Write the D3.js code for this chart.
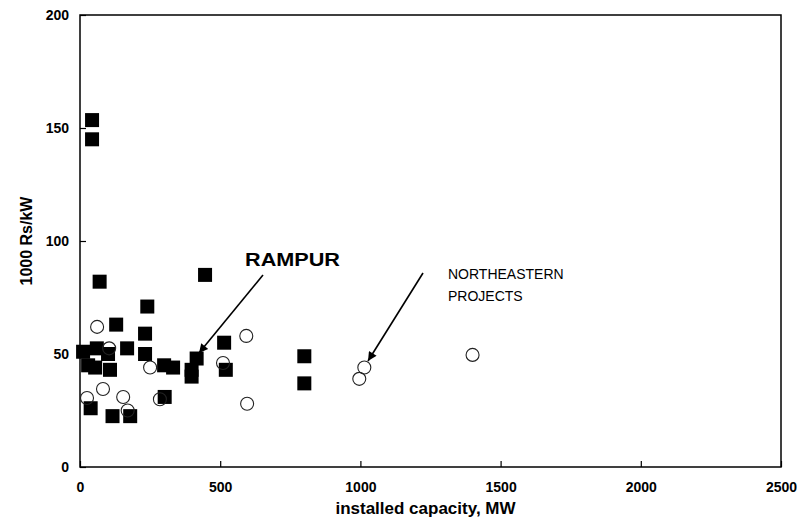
<!DOCTYPE html>
<html>
<head>
<meta charset="utf-8">
<script src="https://cdn.jsdelivr.net/npm/d3@7"></script>
<style>
  body { margin: 0; background: #fff; }
  text { font-family: Arial, "Liberation Sans", sans-serif; }
  .tick text { font-weight: bold; font-size: 14px; }
</style>
</head>
<body>
<div id="chart"></div>
<script>
// filled squares: [installed capacity MW, 1000 Rs/kW]
let squares = [
  [43, 153.5], [43, 145], [70, 82], [240, 71], [446, 85], [129, 63], [232, 59],
  [11, 51], [60, 52.5], [100, 50], [168, 52.5], [232, 50], [29, 45], [54, 44],
  [107, 43], [300, 45], [332, 44], [398, 43], [398, 40], [416, 48], [514, 55],
  [520, 43], [800, 49], [800, 37], [38, 26], [116, 22.5], [179, 22.5], [302, 31]
]
// open circles
let circles = [
  [61, 62], [104, 52.5], [250, 44], [82, 34.5], [25, 30.5], [154, 31], [170, 25],
  [285, 30], [593, 58], [510, 46], [596, 28], [1014, 44], [996, 39], [1400, 49.6]
]
let xTicks = [0, 500, 1000, 1500, 2000, 2500]
let yTicks = [0, 50, 100, 150, 200]

let width = 797
let height = 522
let margin = { top: 15, right: 16, bottom: 55, left: 80 }

let svg = d3.select('#chart').append('svg')
  .attr('width', width)
  .attr('height', height)

let x = d3.scaleLinear().domain([0, 2500]).range([margin.left, width - margin.right])
let y = d3.scaleLinear().domain([0, 200]).range([height - margin.bottom, margin.top])

// frame
svg.append('rect')
  .attr('x', x(0))
  .attr('y', y(200))
  .attr('width', x(2500) - x(0))
  .attr('height', y(0) - y(200))
  .attr('fill', 'none')
  .attr('stroke', '#000')
  .attr('stroke-width', 1.5)

let xAxis = svg.append('g')
  .attr('transform', 'translate(0,' + y(0) + ')')
  .call(d3.axisBottom(x).tickValues(xTicks).tickSize(-6).tickPadding(15).tickFormat(d3.format('d')))
xAxis.select('.domain').remove()

let yAxis = svg.append('g')
  .attr('transform', 'translate(' + x(0) + ',0)')
  .call(d3.axisLeft(y).tickValues(yTicks).tickSize(-6).tickPadding(11).tickFormat(d3.format('d')))
yAxis.select('.domain').remove()

svg.selectAll('.tick line').attr('stroke', '#000').attr('stroke-width', 1.2)
svg.selectAll('.tick text').attr('fill', '#000')

// axis titles
svg.append('text')
  .attr('x', (x(0) + x(2500)) / 2 - 5)
  .attr('y', 514)
  .attr('text-anchor', 'middle')
  .attr('font-size', 17)
  .attr('font-weight', 'bold')
  .text('installed capacity, MW')

svg.append('text')
  .attr('transform', 'translate(32,' + y(100) + ')rotate(-90)')
  .attr('text-anchor', 'middle')
  .attr('font-size', 16)
  .attr('font-weight', 'bold')
  .text('1000 Rs/kW')

// markers
let s = 14
svg.append('g').selectAll('rect')
  .data(squares)
  .enter().append('rect')
  .attr('x', (d) => x(d[0]) - s / 2)
  .attr('y', (d) => y(d[1]) - s / 2)
  .attr('width', s)
  .attr('height', s)
  .attr('fill', '#000')

svg.append('g').selectAll('circle')
  .data(circles)
  .enter().append('circle')
  .attr('cx', (d) => x(d[0]))
  .attr('cy', (d) => y(d[1]))
  .attr('r', 6.5)
  .attr('fill', 'none')
  .attr('stroke', '#222')
  .attr('stroke-width', 1.1)

// annotations
svg.append('defs').append('marker')
  .attr('id', 'head')
  .attr('viewBox', '0 0 10 10')
  .attr('refX', 10)
  .attr('refY', 5)
  .attr('markerWidth', 16)
  .attr('markerHeight', 9)
  .attr('markerUnits', 'userSpaceOnUse')
  .attr('orient', 'auto')
  .append('path')
  .attr('d', 'M0,0L10,5L0,10Z')
  .attr('fill', '#000')

let notes = [
  { from: [263, 275], to: [199, 353] },
  { from: [423, 273], to: [368, 361] }
]
svg.append('g').selectAll('line')
  .data(notes)
  .enter().append('line')
  .attr('x1', (d) => d.from[0])
  .attr('y1', (d) => d.from[1])
  .attr('x2', (d) => d.to[0])
  .attr('y2', (d) => d.to[1])
  .attr('stroke', '#000')
  .attr('stroke-width', 1.6)
  .attr('marker-end', 'url(#head)')

svg.append('text')
  .attr('x', 245)
  .attr('y', 266)
  .attr('font-size', 19)
  .attr('font-weight', 'bold')
  .attr('textLength', 95)
  .attr('lengthAdjust', 'spacingAndGlyphs')
  .text('RAMPUR')

svg.append('text')
  .attr('x', 448)
  .attr('y', 279)
  .attr('font-size', 14)
  .text('NORTHEASTERN')
svg.append('text')
  .attr('x', 448)
  .attr('y', 301)
  .attr('font-size', 14)
  .text('PROJECTS')
</script>
</body>
</html>
